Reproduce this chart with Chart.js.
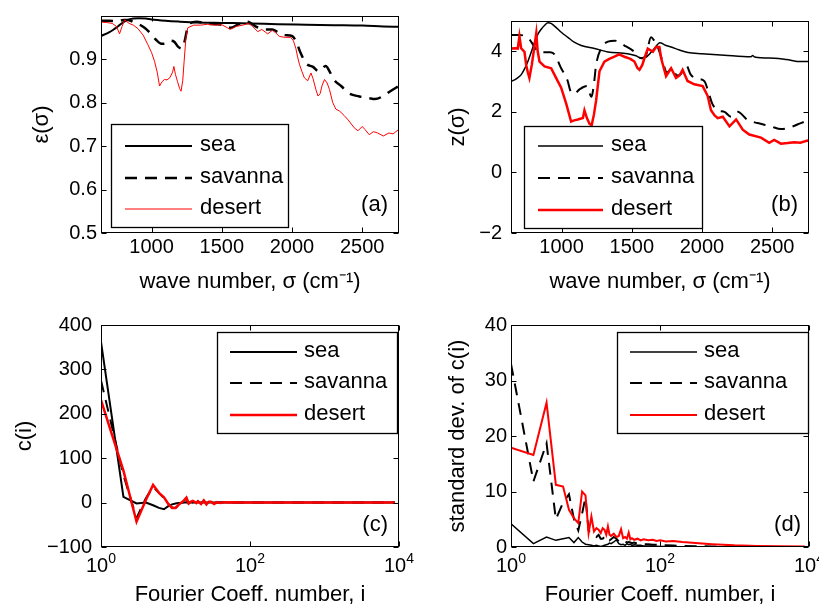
<!DOCTYPE html>
<html>
<head>
<meta charset="utf-8">
<title>Emissivity and Fourier coefficients</title>
<script src="https://cdn.jsdelivr.net/npm/chart.js@4/dist/chart.umd.min.js"></script>
<style>
    html, body { margin: 0; padding: 0; background: #fff; width: 819px; height: 607px; overflow: hidden; }
    canvas { position: absolute; }
</style>
</head>
<body>
<canvas id="chartA" width="410" height="300" style="left:0px;top:0px"></canvas>
<canvas id="chartB" width="409" height="300" style="left:410px;top:0px"></canvas>
<canvas id="chartC" width="430" height="320" style="left:0px;top:300px"></canvas>
<canvas id="chartD" width="409" height="320" style="left:410px;top:300px"></canvas>
<script>
const FONT = "'Liberation Sans', Arial, Helvetica, sans-serif";
const seriesNames = ['sea', 'savanna', 'desert'];

// (a) emissivity
const seaSigmaA = [640, 700, 760, 800, 830, 870, 910, 960, 1000, 1100,
    1200, 1330, 1500, 1700, 1900, 2100, 2300, 2500, 2650, 2760];
const seaEpsA = [0.953, 0.962, 0.975, 0.985, 0.990, 0.993, 0.994, 0.993, 0.991, 0.988,
    0.986, 0.984, 0.983, 0.982, 0.980, 0.979, 0.978, 0.977, 0.975, 0.974];

const savSigmaA = [640, 700, 760, 800, 830, 870, 910, 950, 990, 1030,
    1070, 1100, 1130, 1160, 1190, 1215, 1235, 1255, 1275, 1320,
    1400, 1500, 1560, 1620, 1670, 1700, 1740, 1780, 1820, 1860,
    1900, 1950, 2000, 2030, 2060, 2100, 2150, 2190, 2240, 2270,
    2300, 2350, 2400, 2480, 2550, 2590, 2650, 2700, 2760];
const savEpsA = [0.988, 0.988, 0.987, 0.990, 0.990, 0.985, 0.980, 0.972, 0.960, 0.945,
    0.935, 0.936, 0.942, 0.940, 0.928, 0.924, 0.940, 0.970, 0.982, 0.986,
    0.981, 0.979, 0.972, 0.980, 0.986, 0.984, 0.975, 0.970, 0.968, 0.968,
    0.962, 0.955, 0.953, 0.940, 0.915, 0.890, 0.882, 0.872, 0.884, 0.870,
    0.852, 0.838, 0.822, 0.814, 0.810, 0.808, 0.815, 0.826, 0.838];

const desSigmaA = [640, 680, 720, 750, 772, 790, 808, 840, 870, 903,
    940, 974, 1000, 1021, 1040, 1057, 1075, 1092, 1110, 1130,
    1150, 1159, 1170, 1185, 1200, 1210, 1222, 1232, 1245, 1258,
    1300, 1350, 1400, 1450, 1500, 1540, 1560, 1600, 1650, 1690,
    1720, 1756, 1785, 1810, 1827, 1860, 1885, 1910, 1950, 1990,
    2010, 2027, 2040, 2053, 2070, 2088, 2112, 2135, 2150, 2170,
    2185, 2200, 2215, 2232, 2250, 2267, 2290, 2312, 2340, 2372,
    2400, 2443, 2470, 2500, 2520, 2550, 2580, 2610, 2650, 2690,
    2720, 2760];
const desEpsA = [0.985, 0.984, 0.982, 0.975, 0.958, 0.975, 0.990, 0.982, 0.978, 0.970,
    0.955, 0.933, 0.915, 0.895, 0.870, 0.838, 0.848, 0.853, 0.852, 0.857,
    0.870, 0.883, 0.865, 0.848, 0.832, 0.826, 0.850, 0.895, 0.950, 0.972,
    0.978, 0.978, 0.980, 0.978, 0.979, 0.972, 0.968, 0.975, 0.978, 0.982,
    0.975, 0.963, 0.968, 0.962, 0.958, 0.966, 0.960, 0.952, 0.950, 0.950,
    0.942, 0.925, 0.905, 0.888, 0.872, 0.857, 0.850, 0.868, 0.855, 0.830,
    0.815, 0.820, 0.840, 0.853, 0.845, 0.830, 0.800, 0.785, 0.780, 0.770,
    0.760, 0.742, 0.735, 0.745, 0.738, 0.726, 0.733, 0.730, 0.723, 0.730,
    0.728, 0.738];

// (b) z(sigma)
const seaSigmaB = [640, 680, 713, 740, 760, 790, 808, 830, 855, 880,
    903, 925, 950, 1000, 1045, 1090, 1140, 1235, 1330, 1470,
    1530, 1566, 1600, 1640, 1661, 1700, 1740, 1780, 1840, 1900,
    2000, 2160, 2349, 2360, 2375, 2515, 2600, 2704, 2760];
const seaZB = [3.00, 3.10, 3.23, 3.45, 3.66, 4.05, 4.30, 4.55, 4.73, 4.86,
    4.94, 4.92, 4.83, 4.62, 4.46, 4.30, 4.19, 4.09, 3.98, 3.92,
    3.85, 3.77, 3.80, 3.98, 4.09, 4.28, 4.20, 4.14, 4.04, 3.96,
    3.92, 3.87, 3.82, 3.86, 3.81, 3.77, 3.73, 3.66, 3.66];

const savSigmaB = [640, 700, 740, 770, 800, 830, 870, 920, 950, 997,
    1040, 1068, 1090, 1130, 1180, 1213, 1230, 1246, 1280, 1330,
    1380, 1448, 1520, 1566, 1600, 1637, 1660, 1685, 1720, 1750,
    1790, 1820, 1850, 1886, 1920, 1960, 2016, 2050, 2073, 2112,
    2160, 2207, 2254, 2325, 2396, 2491, 2562, 2633, 2704, 2760];
const savZB = [4.54, 4.54, 4.50, 4.40, 4.20, 4.00, 3.97, 3.97, 3.90, 3.44,
    3.07, 2.64, 2.60, 2.75, 2.85, 2.50, 2.90, 3.55, 4.08, 4.32,
    4.35, 4.19, 3.98, 3.77, 3.85, 4.46, 4.35, 4.14, 3.66, 3.30,
    3.45, 3.20, 3.25, 3.55, 3.23, 3.10, 3.02, 2.59, 2.27, 2.05,
    2.00, 1.84, 2.00, 1.73, 1.63, 1.52, 1.43, 1.50, 1.63, 1.73];

const desSigmaB = [640, 670, 688, 700, 712, 736, 748, 760, 771, 788,
    805, 820, 830, 843, 879, 926, 961, 997, 1033, 1068,
    1090, 1116, 1152, 1163, 1182, 1200, 1215, 1230, 1246, 1270,
    1305, 1340, 1376, 1410, 1448, 1490, 1519, 1540, 1555, 1575,
    1590, 1614, 1650, 1673, 1697, 1709, 1744, 1780, 1815, 1840,
    1862, 1897, 1945, 2005, 2040, 2064, 2090, 2112, 2148, 2196,
    2243, 2290, 2337, 2420, 2479, 2514, 2562, 2610, 2657, 2700,
    2751, 2760];
const desZB = [4.09, 4.10, 4.09, 4.50, 4.10, 3.98, 3.55, 3.30, 3.12, 3.55,
    4.10, 4.60, 4.00, 3.66, 3.50, 3.44, 3.12, 2.80, 2.27, 1.68,
    1.72, 1.75, 1.80, 2.05, 1.78, 1.60, 1.57, 1.90, 2.37, 3.34,
    3.66, 3.75, 3.82, 3.90, 3.82, 3.75, 3.66, 3.45, 3.39, 3.55,
    3.77, 4.09, 3.98, 4.14, 4.14, 3.77, 3.18, 3.44, 3.12, 3.20,
    3.39, 3.02, 2.91, 2.85, 2.53, 2.05, 1.88, 1.79, 1.84, 1.52,
    1.75, 1.41, 1.25, 1.15, 0.98, 1.07, 0.95, 0.97, 1.00, 0.98,
    1.05, 1.04];

// (c) Fourier coefficients c(i)
const idxC = [1, 2, 3, 4, 5, 6, 7, 8, 9, 10,
    11, 12, 13, 14, 15, 16, 17, 18, 19, 20,
    22, 24, 26, 28, 30, 33, 36, 40, 45, 50,
    60, 70, 80, 100, 150, 200, 300, 500, 1000, 2000,
    4000, 8800];
const seaC = [362, 13, -2, 0, -6, -12, -15, -8, -4, -2,
    -1, -1, 0, 1, 0, 1, 0, 1, 0, 0,
    0, 1, 0, 0, 0, 0, 0, 0, 0, 0,
    0, 0, 0, 0, 0, 0, 0, 0, 0, 0,
    0, 0];
const savC = [275, 62, -35, 10, 35, 22, 10, -3, -11, -12,
    -6, 0, 4, 10, -2, 2, 4, 2, -1, 3,
    -2, 4, -3, 1, 2, -2, 1, 0, 1, 0,
    0, 0, 0, 0, 0, 0, 0, 0, 0, 0,
    0, 0];
const desC = [231, 72, -43, 6, 40, 22, 12, -3, -12, -12,
    -5, 0, 5, 11, -2, 2, 4, 2, -1, 3,
    -3, 5, -4, 2, 2, -3, 1, -1, 1, 0,
    1, 0, 0, 0, 0, 0, 0, 0, 0, 0,
    0, 0];

// (d) standard deviation of c(i)
const idxD = [1, 2, 3, 4, 5, 6, 7, 8, 9, 10,
    11, 12, 13, 14, 15, 16, 17, 18, 19, 20,
    21, 22, 24, 26, 28, 30, 32, 34, 36, 38,
    40, 42, 45, 50, 55, 60, 70, 80, 90, 100,
    120, 150, 200, 300, 500, 1000, 2000, 4000, 8800];
const seaD = [4.2, 0.6, 1.8, 1.2, 1.5, 1.7, 0.8, 1.7, 0.9, 0.5,
    0.4, 0.3, 0.2, 0.3, 0.2, 0.1, 0.2, 0.3, 0.4, 0.5,
    0.7, 0.6, 0.9, 1.3, 0.6, 0.4, 0.5, 0.3, 0.6, 0.4,
    0.5, 0.3, 0.4, 0.3, 0.3, 0.2, 0.2, 0.2, 0.15, 0.1,
    0.1, 0.05, 0.05, 0.03, 0.02, 0.01, 0.01, 0.01, 0.01];
const savD = [33, 11.8, 18.7, 5, 8, 9.5, 5, 3, 6, 9,
    3, 2.5, 2, 1.8, 2.2, 1.5, 1.5, 1.8, 1.3, 1.5,
    1.2, 1.4, 1.8, 1.5, 1, 1.2, 0.9, 1, 0.8, 0.9,
    0.8, 0.7, 0.8, 0.6, 0.6, 0.5, 0.5, 0.4, 0.4, 0.3,
    0.3, 0.25, 0.2, 0.15, 0.1, 0.05, 0.03, 0.02, 0.01];
const desD = [17.9, 16.6, 26, 11.2, 10.9, 6.7, 5.2, 4.3, 10, 9.3,
    2.5, 5.5, 2.8, 3.4, 3.1, 2.5, 3.4, 3.1, 2.2, 3.7,
    2.2, 2, 2.4, 1.8, 2, 3.2, 1.6, 1.8, 1.5, 2.6,
    1.4, 1.6, 1.3, 1.5, 1.2, 1.4, 1.2, 1.3, 1.1, 1.2,
    1, 1.1, 0.9, 0.7, 0.5, 0.3, 0.2, 0.12, 0.08];

// tick values
const waveTicks = [1000, 1500, 2000, 2500];
const epsTicks = [0.5, 0.6, 0.7, 0.8, 0.9];
const zTicks = [-2, 0, 2, 4];
const logTicks = [1, 100, 10000];
const cTicks = [-100, 0, 100, 200, 300, 400];
const sdTicks = [0, 10, 20, 30, 40];

function pts(xs, ys) {
    return xs.map((x, i) => ({ x: x, y: ys[i] }));
}

function lineSet(label, xs, ys, color, width, dash, order, smooth) {
    return {
        label: label,
        data: pts(xs, ys),
        borderColor: color,
        borderWidth: width,
        borderDash: dash,
        pointRadius: 0,
        fill: false,
        tension: 0,
        cubicInterpolationMode: smooth ? 'monotone' : 'default',
        order: order
    };
}

// box, inward ticks, in-axes legend and panel letter (MATLAB look)
const framePlugin = {
    id: 'frame',
    afterDraw(chart, args, opts) {
        const ctx = chart.ctx;
        const a = chart.chartArea;
        const sx = chart.scales.x;
        const sy = chart.scales.y;
        const L = Math.round(a.left) + 0.5, R = Math.round(a.right) - 0.5;
        const T = Math.round(a.top) + 0.5, B = Math.round(a.bottom) - 0.5;
        ctx.save();
        ctx.setLineDash([]);
        ctx.strokeStyle = '#000';
        ctx.lineWidth = 1;
        ctx.strokeRect(L, T, R - L, B - T);
        ctx.beginPath();
        sx.ticks.forEach(t => {
            const p = Math.round(sx.getPixelForValue(t.value)) + 0.5;
            ctx.moveTo(p, B); ctx.lineTo(p, B - 5);
            ctx.moveTo(p, T); ctx.lineTo(p, T + 5);
        });
        sy.ticks.forEach(t => {
            const p = Math.round(sy.getPixelForValue(t.value)) + 0.5;
            ctx.moveTo(L, p); ctx.lineTo(L + 5, p);
            ctx.moveTo(R, p); ctx.lineTo(R - 5, p);
        });
        ctx.stroke();

        ctx.fillStyle = '#000';
        if (opts.logLabels) {
            ctx.textAlign = 'left';
            ctx.textBaseline = 'alphabetic';
            sx.ticks.forEach(t => {
                const e = String(Math.round(Math.log10(t.value)));
                ctx.font = '20px ' + FONT;
                const w1 = ctx.measureText('10').width;
                ctx.font = '14px ' + FONT;
                const w2 = ctx.measureText(e).width;
                const x0 = sx.getPixelForValue(t.value) - (w1 + w2) / 2;
                ctx.font = '20px ' + FONT;
                ctx.fillText('10', x0, a.bottom + 25);
                ctx.font = '14px ' + FONT;
                ctx.fillText(e, x0 + w1, a.bottom + 16);
            });
        }

        const lg = opts.legend;
        if (lg) {
            ctx.fillStyle = '#fff';
            ctx.fillRect(lg.x, lg.y, lg.w, lg.h);
            ctx.strokeStyle = '#000';
            ctx.lineWidth = 1.3;
            ctx.strokeRect(lg.x + 0.5, lg.y + 0.5, lg.w, lg.h);
            ctx.font = '22px ' + FONT;
            ctx.textAlign = 'left';
            ctx.textBaseline = 'middle';
            chart.data.datasets.forEach((ds, i) => {
                const y = lg.rows[i];
                ctx.strokeStyle = ds.borderColor;
                ctx.lineWidth = ds.borderWidth;
                ctx.setLineDash(ds.borderDash);
                ctx.beginPath();
                ctx.moveTo(lg.x1, y);
                ctx.lineTo(lg.x2, y);
                ctx.stroke();
                ctx.setLineDash([]);
                ctx.fillStyle = '#000';
                ctx.fillText(ds.label, lg.tx, y - 1);
            });
        }

        if (opts.letter) {
            ctx.font = '22px ' + FONT;
            ctx.textAlign = 'right';
            ctx.textBaseline = 'middle';
            ctx.fillStyle = '#000';
            ctx.fillText(opts.letter.text, opts.letter.x, opts.letter.y);
        }
        ctx.restore();
    }
};

function tickText(v) {
    return String(v).replace('-', '\u2212');
}

function makeChart(id, cfg) {
    return new Chart(document.getElementById(id), {
        type: 'line',
        data: { datasets: cfg.datasets },
        options: {
            responsive: false,
            animation: false,
            devicePixelRatio: 1,
            layout: { padding: cfg.padding },
            plugins: {
                legend: { display: false },
                tooltip: { enabled: false },
                frame: { legend: cfg.legend, letter: cfg.letter, logLabels: cfg.logX }
            },
            scales: {
                x: {
                    type: cfg.logX ? 'logarithmic' : 'linear',
                    min: cfg.xMin,
                    max: cfg.xMax,
                    grid: { display: false, drawTicks: false },
                    border: { display: false },
                    ticks: {
                        display: !cfg.logX,
                        color: '#000',
                        padding: 2,
                        maxRotation: 0,
                        font: { family: FONT, size: 20 },
                        callback: v => tickText(v)
                    },
                    afterBuildTicks: s => { s.ticks = cfg.xTicks.map(v => ({ value: v })); },
                    afterFit: s => { s.height = cfg.xHeight; },
                    title: {
                        display: true,
                        text: cfg.xLabel,
                        color: '#000',
                        font: { family: FONT, size: 22 },
                        padding: { top: 0, bottom: cfg.xTitlePad }
                    }
                },
                y: {
                    min: cfg.yMin,
                    max: cfg.yMax,
                    grid: { display: false, drawTicks: false },
                    border: { display: false },
                    ticks: {
                        color: '#000',
                        padding: cfg.yTickPad,
                        font: { family: FONT, size: 20 },
                        callback: cfg.yFormat || (v => tickText(v))
                    },
                    afterBuildTicks: s => { s.ticks = cfg.yTicks.map(v => ({ value: v })); },
                    afterFit: s => { s.width = 101; },
                    title: {
                        display: true,
                        text: cfg.yLabel,
                        color: '#000',
                        font: { family: FONT, size: 22 },
                        padding: { top: cfg.yTitlePad, bottom: 0 }
                    }
                }
            }
        },
        plugins: [framePlugin]
    });
}

const DASH = [12, 8];

document.addEventListener('DOMContentLoaded', function() {
    makeChart('chartA', {
        datasets: [
            lineSet(seriesNames[0], seaSigmaA, seaEpsA, '#000', 2, [], 3, true),
            lineSet(seriesNames[1], savSigmaA, savEpsA, '#000', 2.5, DASH, 2, true),
            lineSet(seriesNames[2], desSigmaA, desEpsA, '#ff0000', 1, [], 1, false)
        ],
        padding: { top: 14, right: 11, bottom: 0, left: 0 },
        xMin: 640, xMax: 2762, xTicks: waveTicks, xHeight: 67, xTitlePad: 5,
        xLabel: 'wave number, \u03c3 (cm\u207b\u00b9)',
        yMin: 0.5, yMax: 0.999, yTicks: epsTicks, yTickPad: 4, yTitlePad: 29,
        yLabel: '\u03b5(\u03c3)', yFormat: v => v.toFixed(1),
        legend: { x: 111, y: 124, w: 177, h: 103, x1: 125, x2: 192, tx: 200, rows: [146, 178, 209] },
        letter: { text: '(a)', x: 388, y: 205 }
    });

    makeChart('chartB', {
        datasets: [
            lineSet(seriesNames[0], seaSigmaB, seaZB, '#000', 1.5, [], 3, true),
            lineSet(seriesNames[1], savSigmaB, savZB, '#000', 2, DASH, 2, true),
            lineSet(seriesNames[2], desSigmaB, desZB, '#ff0000', 2.5, [], 1, false)
        ],
        padding: { top: 14, right: 10, bottom: 0, left: 0 },
        xMin: 640, xMax: 2762, xTicks: waveTicks, xHeight: 67, xTitlePad: 5,
        xLabel: 'wave number, \u03c3 (cm\u207b\u00b9)',
        yMin: -2, yMax: 5, yTicks: zTicks, yTickPad: 9, yTitlePad: 35,
        yLabel: 'z(\u03c3)',
        legend: { x: 114, y: 126, w: 178, h: 102, x1: 128, x2: 193, tx: 201, rows: [146, 178, 210] },
        letter: { text: '(b)', x: 388, y: 205 }
    });

    makeChart('chartC', {
        datasets: [
            lineSet(seriesNames[0], idxC, seaC, '#000', 2, [], 3, false),
            lineSet(seriesNames[1], idxC, savC, '#000', 2, DASH, 2, false),
            lineSet(seriesNames[2], idxC, desC, '#ff0000', 2.5, [], 1, false)
        ],
        padding: { top: 25, right: 31, bottom: 0, left: 0 },
        logX: true, xMin: 1, xMax: 10000, xTicks: logTicks, xHeight: 73, xTitlePad: 12,
        xLabel: 'Fourier Coeff. number, i',
        yMin: -100, yMax: 400, yTicks: cTicks, yTickPad: 9, yTitlePad: 12,
        yLabel: 'c(i)',
        legend: { x: 217, y: 32, w: 180, h: 101, x1: 230, x2: 297, tx: 304, rows: [52, 83, 115] },
        letter: { text: '(c)', x: 388, y: 225 }
    });

    makeChart('chartD', {
        datasets: [
            lineSet(seriesNames[0], idxD, seaD, '#000', 1.5, [], 3, false),
            lineSet(seriesNames[1], idxD, savD, '#000', 2, DASH, 2, false),
            lineSet(seriesNames[2], idxD, desD, '#ff0000', 2, [], 1, false)
        ],
        padding: { top: 25, right: 10, bottom: 0, left: 0 },
        logX: true, xMin: 1, xMax: 10000, xTicks: logTicks, xHeight: 73, xTitlePad: 12,
        xLabel: 'Fourier Coeff. number, i',
        yMin: 0, yMax: 40, yTicks: sdTicks, yTickPad: 4, yTitlePad: 35,
        yLabel: 'standard dev. of c(i)',
        legend: { x: 207, y: 32, w: 191, h: 101, x1: 220, x2: 287, tx: 294, rows: [52, 83, 115] },
        letter: { text: '(d)', x: 391, y: 225 }
    });
});
</script>
</body>
</html>
